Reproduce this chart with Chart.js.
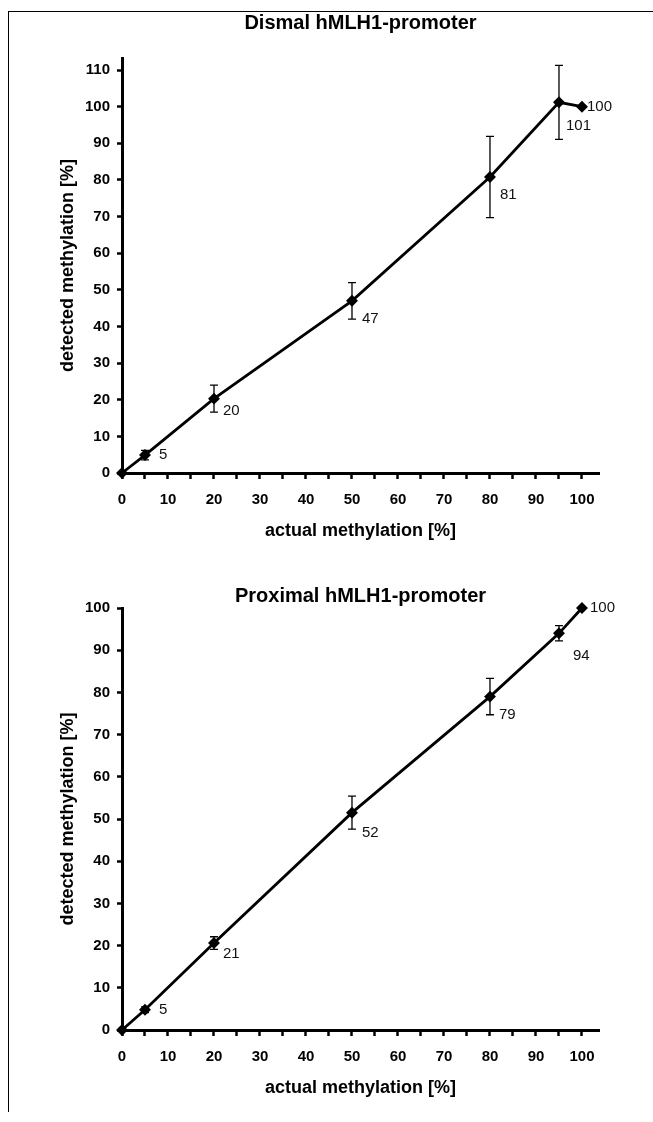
<!DOCTYPE html>
<html>
<head>
<meta charset="utf-8">
<script src="https://cdn.jsdelivr.net/npm/chart.js@4.4.1/dist/chart.umd.min.js"></script>
<style>
  body { margin: 0; background: #fff; overflow: hidden; }
  #page { position: relative; width: 653px; height: 1122px; }
  #frame { position: absolute; left: 8px; top: 11px; width: 650px; height: 1100px;
           border-left: 1.5px solid #000; border-top: 1.5px solid #000; }
  .box { position: absolute; left: 0; width: 653px; height: 560px; }
</style>
</head>
<body>
<div id="page">
  <div id="frame"></div>
  <div class="box" style="top:0"><canvas id="dismal"></canvas></div>
  <div class="box" style="top:560px"><canvas id="proximal"></canvas></div>
</div>
<script>
// data
const actual = [0, 5, 20, 50, 80, 95, 100];

const dismalDetected = [0, 4.9, 20.3, 47, 80.8, 101.2, 100];
const dismalError    = [0, 1.3, 3.7, 5, 11.1, 10.1, 0];
const dismalLabels   = ['', '5', '20', '47', '81', '101', '100'];

const proximalDetected = [0, 4.8, 20.6, 51.5, 79, 94, 100];
const proximalError    = [0, 0.7, 1.5, 3.9, 4.3, 1.8, 0];
const proximalLabels   = ['', '5', '21', '52', '79', '94', '100'];

const xTickMarks  = [0, 5, 10, 15, 20, 25, 30, 35, 40, 45, 50, 55, 60, 65, 70, 75, 80, 85, 90, 95, 100];
const xTickLabels = [0, 10, 20, 30, 40, 50, 60, 70, 80, 90, 100];
const dismalYTicks   = [0, 10, 20, 30, 40, 50, 60, 70, 80, 90, 100, 110];
const proximalYTicks = [0, 10, 20, 30, 40, 50, 60, 70, 80, 90, 100];

// where each value label sits relative to its point (px, left edge / middle)
const dismalLabelOffsets   = [null, [14, 0], [9, 12], [10, 18], [10, 18], [7, 24], [5, 0]];
const proximalLabelOffsets = [null, [14, 0], [9, 11], [10, 20], [9, 18], [14, 23], [8, 0]];

const FONT = "'Liberation Sans', Arial, sans-serif";

const errorBars = {
  id: 'errorBars',
  afterDatasetsDraw(chart) {
    const { ctx, scales: { x, y } } = chart;
    const errs = chart.options.plugins.errorBars.errors;
    const ds = chart.data.datasets[0].data;
    ctx.save();
    ctx.strokeStyle = '#000';
    ctx.lineWidth = 1.3;
    ds.forEach((p, i) => {
      if (!errs[i]) return;
      const px = x.getPixelForValue(p.x);
      const top = y.getPixelForValue(p.y + errs[i]);
      const bot = y.getPixelForValue(p.y - errs[i]);
      ctx.beginPath();
      ctx.moveTo(px, top); ctx.lineTo(px, bot);
      ctx.moveTo(px - 4, top); ctx.lineTo(px + 4, top);
      ctx.moveTo(px - 4, bot); ctx.lineTo(px + 4, bot);
      ctx.stroke();
    });
    ctx.restore();
  }
};

const valueLabels = {
  id: 'valueLabels',
  afterDatasetsDraw(chart) {
    const { ctx } = chart;
    const opts = chart.options.plugins.valueLabels;
    const meta = chart.getDatasetMeta(0);
    ctx.save();
    ctx.font = '15px ' + FONT;
    ctx.fillStyle = '#111';
    ctx.textAlign = 'left';
    ctx.textBaseline = 'middle';
    meta.data.forEach((pt, i) => {
      const off = opts.offsets[i];
      if (!off || !opts.labels[i]) return;
      ctx.fillText(opts.labels[i], pt.x + off[0], pt.y + off[1]);
    });
    ctx.restore();
  }
};

// chart title centred over the plot area, not the whole canvas
const plotTitle = {
  id: 'plotTitle',
  afterDraw(chart) {
    const { ctx, chartArea } = chart;
    const opts = chart.options.plugins.plotTitle;
    ctx.save();
    ctx.font = 'bold 20px ' + FONT;
    ctx.fillStyle = '#000';
    ctx.textAlign = 'center';
    ctx.textBaseline = 'middle';
    ctx.fillText(opts.text, (chartArea.left + chartArea.right) / 2, opts.y);
    ctx.restore();
  }
};

function makeChart(id, title, detected, errors, labels, offsets, yMax, yTicks, t) {
  new Chart(document.getElementById(id), {
    type: 'scatter',
    data: {
      datasets: [{
        data: actual.map((a, i) => ({ x: a, y: detected[i] })),
        showLine: true,
        borderColor: '#000',
        borderWidth: 2.8,
        backgroundColor: '#000',
        pointStyle: 'rectRot',
        pointRadius: 4,
        pointHoverRadius: 4,
        clip: false
      }]
    },
    options: {
      responsive: true,
      maintainAspectRatio: false,
      animation: false,
      events: [],
      layout: { padding: { left: 0, right: 54, top: t.top, bottom: t.bottom } },
      plugins: {
        legend: { display: false },
        tooltip: { enabled: false },
        title: { display: false },
        plotTitle: { text: title, y: t.titleY },
        errorBars: { errors: errors },
        valueLabels: { labels: labels, offsets: offsets }
      },
      scales: {
        x: {
          type: 'linear',
          min: 0,
          max: 103.7,
          afterBuildTicks: s => { s.ticks = xTickMarks.map(v => ({ value: v })); },
          afterFit: s => { s.height = 87; },
          ticks: {
            autoSkip: false,
            maxRotation: 0,
            padding: 12,
            color: '#000',
            font: { family: FONT, size: 15, weight: 'bold' },
            callback: v => xTickLabels.includes(v) ? String(v) : ''
          },
          grid: { drawOnChartArea: false, drawTicks: true, tickLength: 6, tickWidth: 2.5, color: '#000' },
          border: { display: true, color: '#000', width: 3 },
          title: {
            display: true,
            text: 'actual methylation [%]',
            color: '#000',
            font: { family: FONT, size: 18, weight: 'bold' },
            padding: { top: 0, bottom: 18 }
          }
        },
        y: {
          type: 'linear',
          min: 0,
          max: yMax,
          afterBuildTicks: s => { s.ticks = yTicks.map(v => ({ value: v })); },
          afterFit: s => { s.width = 122; },
          ticks: {
            autoSkip: false,
            padding: 7,
            color: '#000',
            font: { family: FONT, size: 15, weight: 'bold' }
          },
          grid: { drawOnChartArea: false, drawTicks: true, tickLength: 5, tickWidth: 2.5, color: '#000' },
          border: { display: true, color: '#000', width: 3 },
          title: {
            display: true,
            text: 'detected methylation [%]',
            color: '#000',
            font: { family: FONT, size: 18, weight: 'bold' },
            padding: { top: 57, bottom: 0 }
          }
        }
      }
    },
    plugins: [errorBars, valueLabels, plotTitle]
  });
}

makeChart('dismal', 'Dismal hMLH1-promoter', dismalDetected, dismalError, dismalLabels,
  dismalLabelOffsets, 113.3, dismalYTicks, { top: 58, bottom: 0, titleY: 23 });
makeChart('proximal', 'Proximal hMLH1-promoter', proximalDetected, proximalError, proximalLabels,
  proximalLabelOffsets, 100, proximalYTicks, { top: 48, bottom: 3, titleY: 36 });
</script>
</body>
</html>
